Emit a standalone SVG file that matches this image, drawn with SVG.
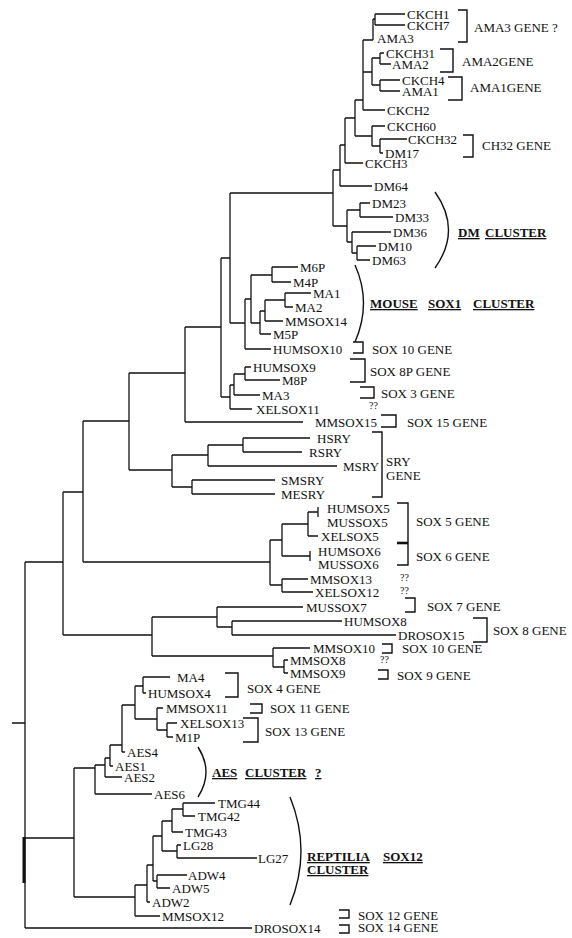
<svg xmlns="http://www.w3.org/2000/svg" width="572" height="938" viewBox="0 0 572 938">
<style>
text{font-family:"Liberation Serif","Times New Roman",serif;font-size:13px;fill:#111}
.b{font-weight:bold;text-decoration:underline}
.e path{fill:none;stroke:#111;stroke-width:1.3}
.br{fill:none;stroke:#111;stroke-width:1.4}
</style>
<rect width="572" height="938" fill="#fff"/>
<g id="connectors" class="e">
<path d="M375,14H405M375,25H405M375,14V25M373,19H375M373,19V40M363,40H373"/>
<path d="M380,53H384M380,64H391M380,53V64M372,58H380M380,80H400M380,91H400M380,80V91M372,85H380M372,58V85M363,72H372"/>
<path d="M363,40V110M363,110H385M355,100H363"/>
<path d="M372,126H385M380,139H407M380,153H383M380,139V153M372,146H380M372,126V146M355,136H372M355,100V136M345,118H355"/>
<path d="M345,118V163M345,163H363M340,145H345M340,145V186M340,186H372M333,170H340"/>
<path d="M360,203H370M360,217H393M360,203V217M347,210H360M357,246H376M357,260H370M357,246V260M352,253H357M352,232H391M352,232V253M347,242H352M347,210V242M333,226H347M333,170V226M230,193H333"/>
<path d="M272,267H298M272,282H291M272,267V282M251,275H272M285,293H311M285,307H293M285,293V307M265,300H285M265,321H283M265,300V321M260,311H265M260,334H271M260,311V334M251,323H260M251,275V323M245,299H251M245,349H271M245,299V349M230,323H245M230,193V323M221,258H230"/>
<path d="M245,367H251M245,380H280M245,367V380M234,374H245M234,395H260M234,374V395M230,385H234M230,409H252M230,385V409M221,397H230M221,258V397M185,327H221M185,422H303M185,327V422M129,373H185"/>
<path d="M243,438H310M243,452H302M243,438V452M208,445H243M208,466H337M208,445V466M172,455H208M192,480H275M192,494H275M192,480V494M172,487H192M172,455V487M129,470H172M129,373V470M83,421H129"/>
<path d="M318,507V517M308,512H318M308,536H318M308,512V536M282,524H308M310,551V561M282,556H310M282,524V556M270,540H282M282,579H308M282,592H313M282,579V592M270,585H282M270,540V585M83,562H270M83,421V562M63,492H83"/>
<path d="M217,607H303M232,621H342M232,635H396M232,621V635M217,627H232M217,607V627M152,617H217M273,648H310M284,660H288M284,673H288M284,660V673M273,667H284M273,648V667M152,656H273M152,617V656M63,635H152M63,492V635M25,562H63"/>
<path d="M25,562V928M12,723H25M25,928H252M25,838H74M74,768V897"/>
<path d="M24,837V883" style="stroke-width:3"/>
<path d="M143,677H170M143,693H146M143,677V693M135,686H143M157,708H163M167,723H177M167,737H173M167,723V737M157,730H167M157,708V730M135,719H157M135,686V719M122,705H135M122,705V752M122,752H125M110,745H122M110,745V766M110,766H113M105,758H110M105,758V777M105,777H122M95,765H105M95,765V794M95,794H152M74,768H95"/>
<path d="M183,803H215M183,816H195M183,803V816M172,809H183M172,809V832M172,832H183M162,821H172M177,845H181M177,858H257M177,845V858M162,851H177M162,821V851M153,836H162M157,875H187M157,888H170M157,875V888M153,881H157M153,836V881M147,865H153M147,865V902M147,902H150M135,885H147M135,885V916M135,916H160M74,897H135"/>
</g>
<g id="CKCH1"><text x="407" y="18.5">CKCH1</text></g>
<g id="CKCH7"><text x="407" y="29.5">CKCH7</text></g>
<g id="AMA3"><text x="377" y="42.5">AMA3</text></g>
<g id="CKCH31"><text x="386" y="57.5">CKCH31</text></g>
<g id="AMA2"><text x="392" y="68.5">AMA2</text></g>
<g id="CKCH4"><text x="402" y="84.5">CKCH4</text></g>
<g id="AMA1"><text x="402" y="95.5">AMA1</text></g>
<g id="CKCH2"><text x="387" y="114.5">CKCH2</text></g>
<g id="CKCH60"><text x="387" y="130.5">CKCH60</text></g>
<g id="CKCH32"><text x="408" y="143.5">CKCH32</text></g>
<g id="DM17"><text x="385" y="157.5">DM17</text></g>
<g id="CKCH3"><text x="365" y="167.5">CKCH3</text></g>
<g id="DM64"><text x="374" y="190.5">DM64</text></g>
<g id="DM23"><text x="372" y="207.5">DM23</text></g>
<g id="DM33"><text x="395" y="221.5">DM33</text></g>
<g id="DM36"><text x="393" y="236.5">DM36</text></g>
<g id="DM10"><text x="378" y="250.5">DM10</text></g>
<g id="DM63"><text x="372" y="264.5">DM63</text></g>
<g id="M6P"><text x="300" y="271.5">M6P</text></g>
<g id="M4P"><text x="293" y="286.5">M4P</text></g>
<g id="MA1"><text x="313" y="297.5">MA1</text></g>
<g id="MA2"><text x="295" y="311.5">MA2</text></g>
<g id="MMSOX14"><text x="285" y="325.5">MMSOX14</text></g>
<g id="M5P"><text x="273" y="338.5">M5P</text></g>
<g id="HUMSOX10"><text x="273" y="353.5">HUMSOX10</text></g>
<g id="HUMSOX9"><text x="253" y="371.5">HUMSOX9</text></g>
<g id="M8P"><text x="282" y="384.5">M8P</text></g>
<g id="MA3"><text x="262" y="399.5">MA3</text></g>
<g id="XELSOX11"><text x="256" y="413.5">XELSOX11</text></g>
<g id="MMSOX15"><text x="315" y="426.5">MMSOX15</text></g>
<g id="HSRY"><text x="317" y="442.5">HSRY</text></g>
<g id="RSRY"><text x="309" y="456.5">RSRY</text></g>
<g id="MSRY"><text x="343" y="470.5">MSRY</text></g>
<g id="SMSRY"><text x="281" y="484.5">SMSRY</text></g>
<g id="MESRY"><text x="281" y="498.5">MESRY</text></g>
<g id="HUMSOX5"><text x="327" y="512.5">HUMSOX5</text></g>
<g id="MUSSOX5"><text x="327" y="526.5">MUSSOX5</text></g>
<g id="XELSOX5"><text x="321" y="540.5">XELSOX5</text></g>
<g id="HUMSOX6"><text x="318" y="555.5">HUMSOX6</text></g>
<g id="MUSSOX6"><text x="318" y="568.5">MUSSOX6</text></g>
<g id="MMSOX13"><text x="310" y="583.5">MMSOX13</text></g>
<g id="XELSOX12"><text x="315" y="596.5">XELSOX12</text></g>
<g id="MUSSOX7"><text x="306" y="611.5">MUSSOX7</text></g>
<g id="HUMSOX8"><text x="344" y="625.5">HUMSOX8</text></g>
<g id="DROSOX15"><text x="398" y="639.5">DROSOX15</text></g>
<g id="MMSOX10"><text x="313" y="652.5">MMSOX10</text></g>
<g id="MMSOX8"><text x="290" y="664.5">MMSOX8</text></g>
<g id="MMSOX9"><text x="290" y="677.5">MMSOX9</text></g>
<g id="MA4"><text x="177" y="681.5">MA4</text></g>
<g id="HUMSOX4"><text x="148" y="697.5">HUMSOX4</text></g>
<g id="MMSOX11"><text x="166" y="712.5">MMSOX11</text></g>
<g id="XELSOX13"><text x="180" y="727.5">XELSOX13</text></g>
<g id="M1P"><text x="175" y="741.5">M1P</text></g>
<g id="AES4"><text x="127" y="756.5">AES4</text></g>
<g id="AES1"><text x="115" y="770.5">AES1</text></g>
<g id="AES2"><text x="124" y="781.5">AES2</text></g>
<g id="AES6"><text x="154" y="798.5">AES6</text></g>
<g id="TMG44"><text x="218" y="807.5">TMG44</text></g>
<g id="TMG42"><text x="198" y="820.5">TMG42</text></g>
<g id="TMG43"><text x="185" y="836.5">TMG43</text></g>
<g id="LG28"><text x="183" y="849.5">LG28</text></g>
<g id="LG27"><text x="258" y="862.5">LG27</text></g>
<g id="ADW4"><text x="188" y="879.5">ADW4</text></g>
<g id="ADW5"><text x="172" y="892.5">ADW5</text></g>
<g id="ADW2"><text x="152" y="906.5">ADW2</text></g>
<g id="MMSOX12"><text x="162" y="920.5">MMSOX12</text></g>
<g id="DROSOX14"><text x="254" y="932.5">DROSOX14</text></g>
<g id="annotations">
<path class="br" d="M458,10H467V42H458M440,49H453V72H440M448,77H462V100H448M463,135H473V157H463"/>
<text x="474" y="31.5">AMA3 GENE ?</text>
<text x="462" y="65.5">AMA2GENE</text>
<text x="470" y="92">AMA1GENE</text>
<text x="482" y="150">CH32 GENE</text>
<path class="br" d="M435,192Q462,230 435,268"/>
<text class="b" x="458" y="237">DM</text><text class="b" x="485" y="237">CLUSTER</text>
<path class="br" d="M355,265Q372,303 355,342"/>
<text class="b" x="370" y="308">MOUSE</text><text class="b" x="428" y="308">SOX1</text><text class="b" x="473" y="308">CLUSTER</text>
<path class="br" d="M353,342H363V353H353M350,359H365V382H350M360,387H374V398H360M381,415H396V427H381M372,432H382V497H372M397,503H408V565H397M405,598H415V612H405M473,618H487V642H473M382,644H392V653H382M378,670H388V679H378"/>
<path d="M397,543H408" stroke="#111" stroke-width="2.6"/>
<text x="372" y="354">SOX 10 GENE</text>
<text x="370" y="376">SOX 8P GENE</text>
<text x="381" y="398">SOX 3 GENE</text>
<text x="369" y="409" style="font-size:10px">??</text>
<text x="407" y="427">SOX 15 GENE</text>
<text x="386" y="466">SRY</text>
<text x="386" y="480">GENE</text>
<text x="416" y="526">SOX 5 GENE</text>
<text x="416" y="561">SOX 6 GENE</text>
<text x="400" y="581" style="font-size:10px">??</text>
<text x="400" y="594" style="font-size:10px">??</text>
<text x="427" y="611">SOX 7 GENE</text>
<text x="493" y="635">SOX 8 GENE</text>
<text x="402" y="653">SOX 10 GENE</text>
<text x="380" y="663" style="font-size:10px">??</text>
<text x="397" y="680">SOX 9 GENE</text>
<path class="br" d="M225,673H238V697H225M250,704H262V713H250M243,718H258V742H243M339,910H349V918H339M339,925H349V933H339"/>
<text x="247" y="693">SOX 4 GENE</text>
<text x="270" y="713">SOX 11 GENE</text>
<text x="265" y="736">SOX 13 GENE</text>
<path class="br" d="M198,747Q214,772 198,797"/>
<text class="b" x="212" y="777">AES</text><text class="b" x="245" y="777">CLUSTER</text><text class="b" x="315" y="777">?</text>
<path class="br" d="M290,797Q312,851 290,905"/>
<text class="b" x="307" y="861">REPTILIA</text><text class="b" x="383" y="861">SOX12</text>
<text class="b" x="307" y="874">CLUSTER</text>
<text x="358" y="920">SOX 12 GENE</text>
<text x="358" y="932">SOX 14 GENE</text>
</g>
</svg>
